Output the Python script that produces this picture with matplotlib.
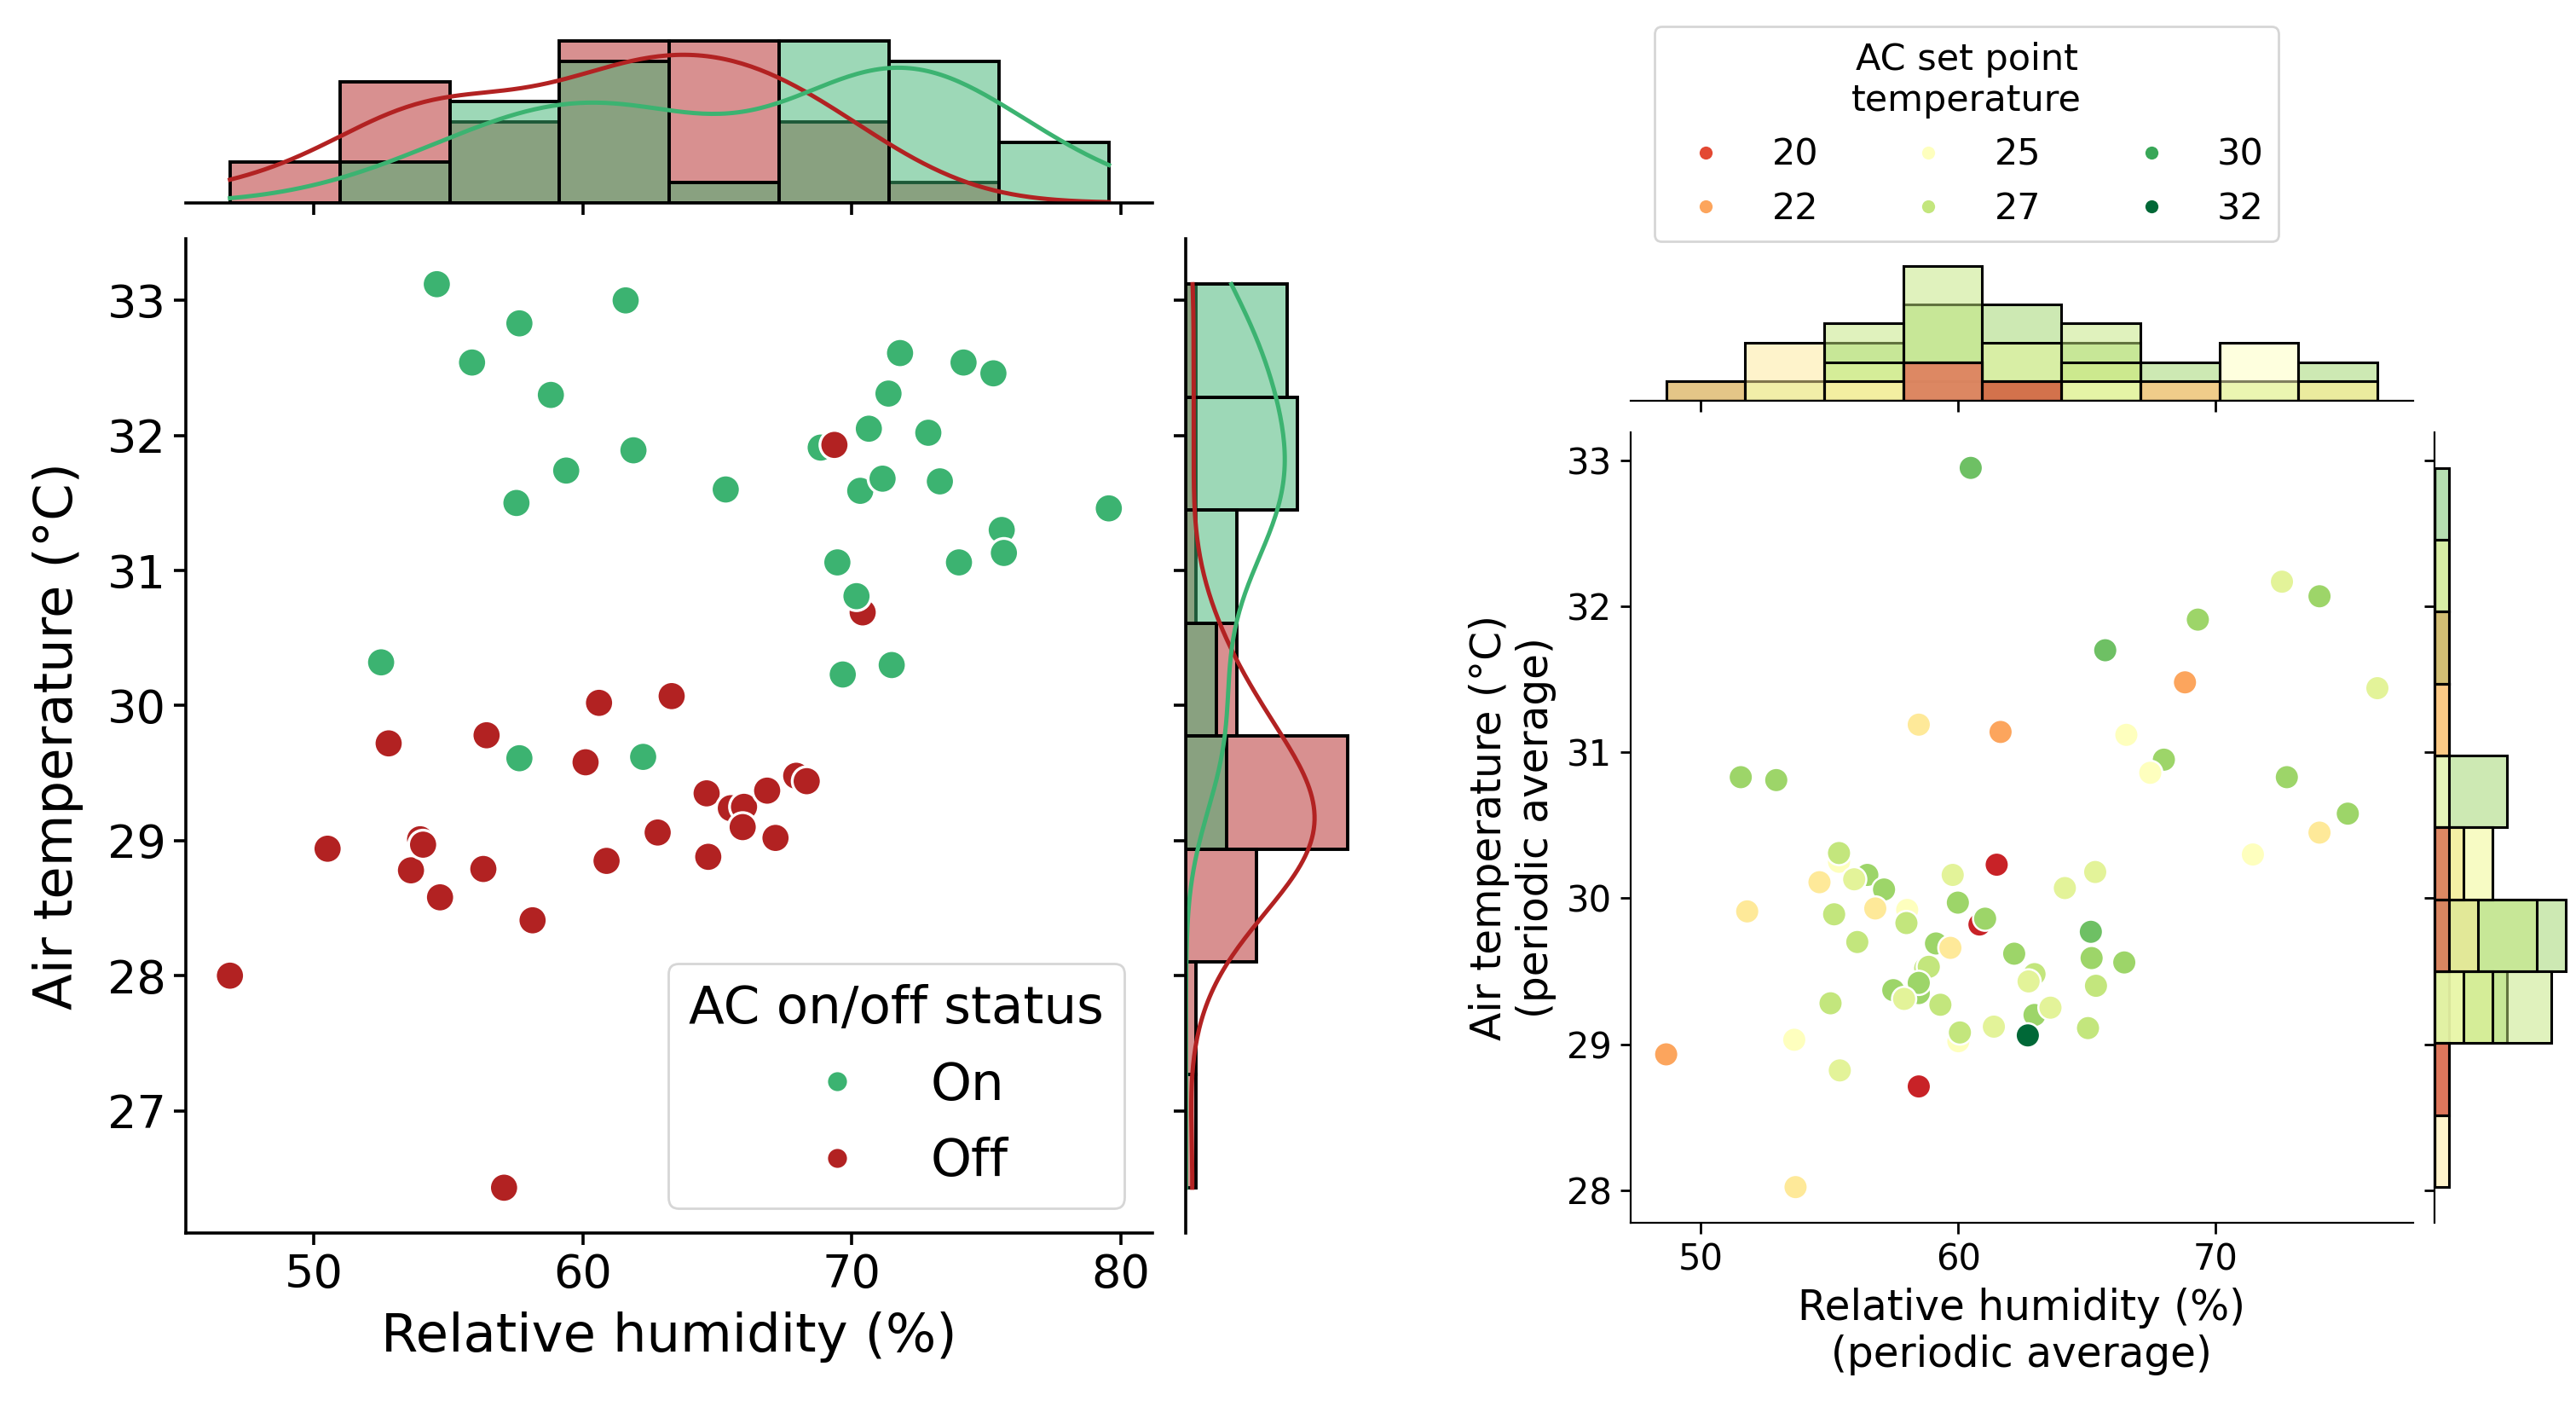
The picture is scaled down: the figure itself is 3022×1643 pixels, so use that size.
import matplotlib
matplotlib.use("Agg")
import numpy as np
import pandas as pd
import matplotlib.pyplot as plt
from matplotlib.lines import Line2D
from matplotlib.colors import Normalize
import seaborn as sns

# ---------------- left panel: AC on / off ----------------
# a few rows sit exactly under other markers (they only show in the histograms)
on_rh = [54.57, 61.59, 57.64, 55.88, 58.81, 61.88, 59.38, 57.53, 65.31, 68.84,
         70.63, 71.36, 71.79, 72.84, 74.15, 75.26, 70.31, 71.14, 73.27, 79.55,
         75.57, 75.65, 69.46, 73.98, 70.17, 69.66, 71.48, 52.50, 57.64, 62.24,
         62.24, 62.24, 61.59]
on_temp = [33.12, 33.00, 32.83, 32.54, 32.30, 31.89, 31.74, 31.50, 31.60, 31.91,
           32.05, 32.31, 32.61, 32.02, 32.54, 32.46, 31.59, 31.68, 31.66, 31.46,
           31.30, 31.13, 31.06, 31.06, 30.81, 30.23, 30.30, 30.32, 29.61, 29.62,
           29.62, 29.62, 33.00]
# first entry is drawn last (on top of the green points)
off_rh = [69.35, 70.40, 60.60, 63.30, 56.42, 52.78, 60.10, 64.60, 65.50, 65.99,
          65.94, 66.85, 67.93, 68.32, 67.16, 62.78, 64.66, 60.88, 56.30, 54.69,
          53.61, 53.95, 54.06, 50.51, 58.13, 46.88, 57.07, 61.59, 62.24, 71.48,
          52.50, 60.88, 62.78]
off_temp = [31.93, 30.69, 30.02, 30.07, 29.78, 29.72, 29.58, 29.35, 29.24, 29.25,
            29.10, 29.37, 29.48, 29.44, 29.02, 29.06, 28.88, 28.85, 28.79, 28.58,
            28.78, 29.01, 28.97, 28.94, 28.41, 28.00, 26.43, 33.00, 29.62, 30.30,
            30.32, 28.85, 29.06]
status_order = ["On", "Off"]
status_colors = ["mediumseagreen", "firebrick"]

# ---------------- right panel: AC set point ----------------
# first ten rows repeat visible points (hidden underneath, seen in the histograms)
avg_rh = [65.36, 65.05, 62.18, 62.97, 57.99, 57.99, 59.99, 66.46, 71.46, 71.46,
          55.37, 60.83, 60.01, 58.47, 58.72,
          60.49, 72.59, 74.05, 69.32, 65.72, 68.82, 76.30, 58.47, 61.65, 66.54,
          68.00, 51.55, 52.93, 67.47, 72.78, 75.15, 74.05, 71.46, 55.37, 56.47,
          57.12, 55.96, 54.61, 59.79, 65.33, 64.15, 51.80, 56.78, 59.99, 55.18,
          58.02, 61.05, 57.99, 65.16, 56.08, 59.14, 59.70, 62.18, 65.19, 66.46,
          58.86, 62.97, 62.74, 58.47, 57.48, 57.90, 65.36, 55.04, 59.31, 62.97,
          63.59, 61.39, 65.05, 60.07, 62.71, 53.63, 48.65, 55.40, 58.47, 53.68,
          61.50]
avg_temp = [29.40, 29.11, 29.62, 29.20, 29.83, 29.83, 29.97, 29.56, 30.30, 30.30,
            30.25, 29.82, 29.02, 29.35, 29.52,
            32.95, 32.17, 32.07, 31.91, 31.70, 31.48, 31.44, 31.19, 31.14, 31.12,
            30.95, 30.83, 30.81, 30.86, 30.83, 30.58, 30.45, 30.30, 30.31, 30.16,
            30.06, 30.13, 30.11, 30.16, 30.18, 30.07, 29.91, 29.93, 29.97, 29.89,
            29.92, 29.86, 29.83, 29.77, 29.70, 29.69, 29.66, 29.62, 29.59, 29.56,
            29.53, 29.48, 29.43, 29.42, 29.37, 29.31, 29.40, 29.28, 29.27, 29.20,
            29.25, 29.12, 29.11, 29.08, 29.06, 29.03, 28.93, 28.82, 28.71, 28.02,
            30.23]
setpoint = [27, 27, 28, 28, 27, 27, 28, 28, 25, 25,
            25, 19, 25, 28, 27,
            29, 26, 28, 28, 29, 22, 26, 24, 22, 25,
            28, 28, 28, 25, 28, 28, 24, 25, 27, 28,
            28, 26, 24, 26, 26, 26, 24, 24, 28, 27,
            25, 28, 27, 29, 27, 28, 24, 28, 28, 28,
            27, 27, 26, 28, 28, 26, 27, 27, 27, 28,
            26, 26, 27, 27, 32, 25, 22, 26, 19, 24,
            19]
legend_levels = [20, 22, 25, 27, 30, 32]
setpoint_range = (18, 32)

df_l = pd.concat([
    pd.DataFrame({"rh": off_rh[1:], "temp": off_temp[1:], "status": "Off"}),
    pd.DataFrame({"rh": on_rh, "temp": on_temp, "status": "On"}),
    pd.DataFrame({"rh": off_rh[:1], "temp": off_temp[:1], "status": "Off"}),
], ignore_index=True)
df_r = pd.DataFrame({"rh": avg_rh, "temp": avg_temp, "sp": setpoint})

fig = plt.figure(figsize=(3022 / 200, 1643 / 200), dpi=200)

# left joint grid
ax_l = fig.add_axes([0.0722, 0.12, 0.3753, 0.7094])
ax_lx = fig.add_axes([0.0722, 0.8553, 0.3753, 0.121], sharex=ax_l)
ax_ly = fig.add_axes([0.4604, 0.12, 0.0659, 0.7094], sharey=ax_l)

sns.scatterplot(data=df_l, x="rh", y="temp", hue="status", hue_order=status_order,
                palette=status_colors, s=150, edgecolor="white", linewidth=1.2,
                legend=False, ax=ax_l)
hist_kw = dict(hue="status", hue_order=status_order, palette=status_colors, bins=8,
               kde=True, edgecolor="black", linewidth=1.4,
               line_kws=dict(linewidth=1.8), legend=False)
sns.histplot(data=df_l, x="rh", ax=ax_lx, **hist_kw)
sns.histplot(data=df_l, y="temp", ax=ax_ly, **hist_kw)

ax_l.set_xlabel("Relative humidity (%)", fontsize=22.5, labelpad=6)
ax_l.set_ylabel("Air temperature (°C)", fontsize=22.5, labelpad=10)
ax_l.tick_params(labelsize=19.5, length=5, width=1.3)
ax_l.set_xticks([50, 60, 70, 80])

handles_l = [Line2D([0], [0], marker="o", linestyle="", markerfacecolor=c,
                    markeredgecolor="white", markersize=9) for c in status_colors]
ax_l.legend(handles_l, status_order, title="AC on/off status", loc="lower right",
            bbox_to_anchor=(0.971, 0.025), borderaxespad=0, fontsize=22,
            title_fontsize=22)

# right joint grid
ax_r = fig.add_axes([0.633, 0.127, 0.3037, 0.5647])
ax_rx = fig.add_axes([0.633, 0.7141, 0.3037, 0.101], sharex=ax_r)
ax_ry = fig.add_axes([0.945, 0.127, 0.0535, 0.5647], sharey=ax_r)

sns.scatterplot(data=df_r, x="rh", y="temp", hue="sp", palette="RdYlGn",
                hue_norm=setpoint_range, s=105, edgecolor="white", linewidth=0.9,
                legend=False, ax=ax_r)
rhist_kw = dict(hue="sp", palette="RdYlGn", hue_norm=setpoint_range,
                edgecolor="black", linewidth=1.1, legend=False)
sns.histplot(data=df_r, x="rh", bins=9, ax=ax_rx, **rhist_kw)
sns.histplot(data=df_r, y="temp", bins=10, ax=ax_ry, **rhist_kw)

ax_r.set_xlabel("Relative humidity (%)\n(periodic average)", fontsize=17.5)
ax_r.set_ylabel("Air temperature (°C)\n(periodic average)", fontsize=17.5)
ax_r.tick_params(labelsize=15, length=4.5, width=1.0)
ax_r.set_xticks([50, 60, 70])

cmap = plt.get_cmap("RdYlGn")
norm = Normalize(*setpoint_range)
handles_r = [Line2D([0], [0], marker="o", linestyle="", markerfacecolor=cmap(norm(v)),
                    markeredgecolor="white", markersize=6.5) for v in legend_levels]
leg = fig.legend(handles_r, [str(v) for v in legend_levels],
                 title="AC set point\ntemperature", ncol=3, loc="upper center",
                 bbox_to_anchor=(0.7634, 0.994), fontsize=15.5, title_fontsize=15.5)
leg.get_title().set_multialignment("center")

for ax in (ax_l, ax_r):
    for side in ("top", "right"):
        ax.spines[side].set_visible(False)
for ax in (ax_lx, ax_rx):
    ax.tick_params(axis="x", labelbottom=False)
    ax.tick_params(axis="y", left=False, labelleft=False)
    for side in ("top", "right", "left"):
        ax.spines[side].set_visible(False)
    ax.set_xlabel("")
    ax.set_ylabel("")
for ax in (ax_ly, ax_ry):
    ax.tick_params(axis="y", labelleft=False)
    ax.tick_params(axis="x", bottom=False, labelbottom=False)
    for side in ("top", "right", "bottom"):
        ax.spines[side].set_visible(False)
    ax.set_xlabel("")
    ax.set_ylabel("")
for ax in (ax_l, ax_lx, ax_ly):
    for s in ax.spines.values():
        s.set_linewidth(1.3)
    ax.tick_params(length=5, width=1.3)
for ax in (ax_rx, ax_ry):
    ax.tick_params(length=4.5, width=1.0)

fig.savefig("out.png", dpi=200, facecolor="white")
